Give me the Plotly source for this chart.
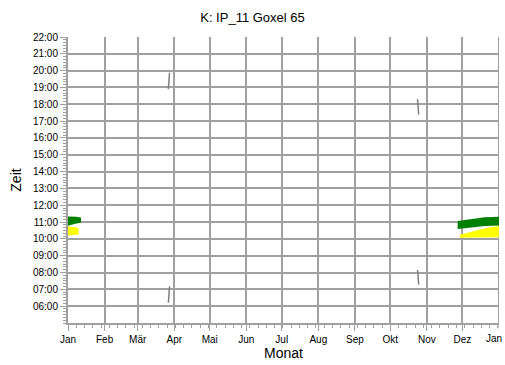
import plotly.graph_objects as go

# Month ticks (German labels)
month_ticks = ["2010-01-01", "2010-02-01", "2010-03-01", "2010-04-01", "2010-05-01",
               "2010-06-01", "2010-07-01", "2010-08-01", "2010-09-01", "2010-10-01",
               "2010-11-01", "2010-12-01", "2011-01-01"]
month_labels = ["Jan", "Feb", "Mär", "Apr", "Mai", "Jun", "Jul", "Aug", "Sep", "Okt",
                "Nov", "Dez", "Jan"]

# Hour ticks
hour_vals = list(range(6, 23))
hour_labels = [f"{h:02d}:00" for h in hour_vals]

# Shadow periods (decimal hours): green receptor, January
green_jan_dates = ["2010-01-01", "2010-01-04", "2010-01-08", "2010-01-12"]
green_jan_top = [11.33, 11.34, 11.32, 11.27]
green_jan_bottom = [10.78, 10.84, 10.92, 10.96]

# Yellow receptor, January
yellow_jan_dates = ["2010-01-01", "2010-01-05", "2010-01-08", "2010-01-10"]
yellow_jan_top = [10.75, 10.72, 10.68, 10.6]
yellow_jan_bottom = [10.2, 10.22, 10.24, 10.28]

# Green receptor, December
green_dec_dates = ["2010-11-27", "2010-12-04", "2010-12-12", "2010-12-20", "2011-01-01"]
green_dec_top = [11.06, 11.12, 11.2, 11.28, 11.32]
green_dec_bottom = [10.58, 10.62, 10.7, 10.76, 10.8]

# Yellow receptor, December
yellow_dec_dates = ["2010-11-29", "2010-12-08", "2010-12-16", "2010-12-24", "2011-01-01"]
yellow_dec_top = [10.25, 10.42, 10.56, 10.67, 10.76]
yellow_dec_bottom = [10.06, 10.06, 10.07, 10.08, 10.09]

# Daylight-saving markers
dst_spring_dates = ["2010-03-28", "2010-03-27"]
dst_spring_evening = [19.88, 18.9]
dst_spring_morning = [7.18, 6.2]
dst_autumn_dates = ["2010-10-24", "2010-10-25"]
dst_autumn_evening = [18.31, 17.39]
dst_autumn_morning = [8.16, 7.28]

GREEN = "#008000"
YELLOW = "#ffff00"
GRID = "#a0a0a0"

fig = go.Figure()


def band(dates, top, bottom, color):
    fig.add_trace(go.Scatter(
        x=dates + dates[::-1],
        y=top + bottom[::-1],
        fill="toself", fillcolor=color,
        mode="lines", line=dict(width=0, color=color),
        hoverinfo="skip", showlegend=False,
    ))


band(green_jan_dates, green_jan_top, green_jan_bottom, GREEN)
band(yellow_jan_dates, yellow_jan_top, yellow_jan_bottom, YELLOW)
band(green_dec_dates, green_dec_top, green_dec_bottom, GREEN)
band(yellow_dec_dates, yellow_dec_top, yellow_dec_bottom, YELLOW)

for dates, times in [(dst_spring_dates, dst_spring_evening),
                     (dst_spring_dates, dst_spring_morning),
                     (dst_autumn_dates, dst_autumn_evening),
                     (dst_autumn_dates, dst_autumn_morning)]:
    fig.add_trace(go.Scatter(
        x=dates, y=times, mode="lines",
        line=dict(color="#808080", width=1.5),
        hoverinfo="skip", showlegend=False,
    ))

font_family = "Liberation Sans, Arial, sans-serif"

fig.update_layout(
    width=505, height=365,
    margin=dict(l=68, r=6, t=37, b=40),
    paper_bgcolor="white", plot_bgcolor="white",
    font=dict(family=font_family, size=10, color="#000000"),
    title=dict(text="K: IP_11 Goxel 65", x=0.5, xanchor="center",
               y=1 - 17 / 365, yanchor="middle",
               font=dict(size=13, family=font_family, color="#000000")),
    xaxis=dict(
        type="date",
        range=["2010-01-01", "2011-01-01"],
        tickvals=month_ticks[:-1], ticktext=month_labels[:-1],
        showgrid=True, gridcolor=GRID, gridwidth=2,
        showline=True, linecolor=GRID, linewidth=2,
        ticks="outside", ticklen=6, tickcolor=GRID, tickwidth=1,
        minor=dict(dtick=7 * 86400000, tick0="2010-01-01", ticks="outside",
                   ticklen=3, tickcolor=GRID, showgrid=False),
        zeroline=False,
        tickfont=dict(size=10),
        title=dict(text="Monat", font=dict(size=14), standoff=4),
    ),
    yaxis=dict(
        range=[5, 22],
        tickvals=hour_vals, ticktext=hour_labels,
        showgrid=True, gridcolor=GRID, gridwidth=2,
        showline=True, linecolor=GRID, linewidth=2,
        ticks="outside", ticklen=6, tickcolor=GRID, tickwidth=1,
        minor=dict(dtick=1 / 6, tick0=5, ticks="outside", ticklen=3,
                   tickcolor=GRID, showgrid=False),
        zeroline=False,
        tickfont=dict(size=10),
        title=dict(text="Zeit", font=dict(size=14), standoff=8),
    ),
)

# Closing month label at the right end of the axis, plus its tick and grid line
fig.add_annotation(x=month_ticks[-1], y=0, xref="x", yref="paper",
                   xanchor="right", xshift=5, yanchor="top", yshift=-8,
                   text=month_labels[-1], showarrow=False, font=dict(size=10))
fig.add_shape(type="line", x0=month_ticks[-1], x1=month_ticks[-1], xref="x",
              y0=0, y1=1, yref="paper", line=dict(color=GRID, width=2), layer="below")
fig.add_shape(type="line", x0=month_ticks[-1], x1=month_ticks[-1], xref="x",
              y0=0, y1=-6 / 288, yref="paper", line=dict(color=GRID, width=1))

fig.write_html("out.html")
